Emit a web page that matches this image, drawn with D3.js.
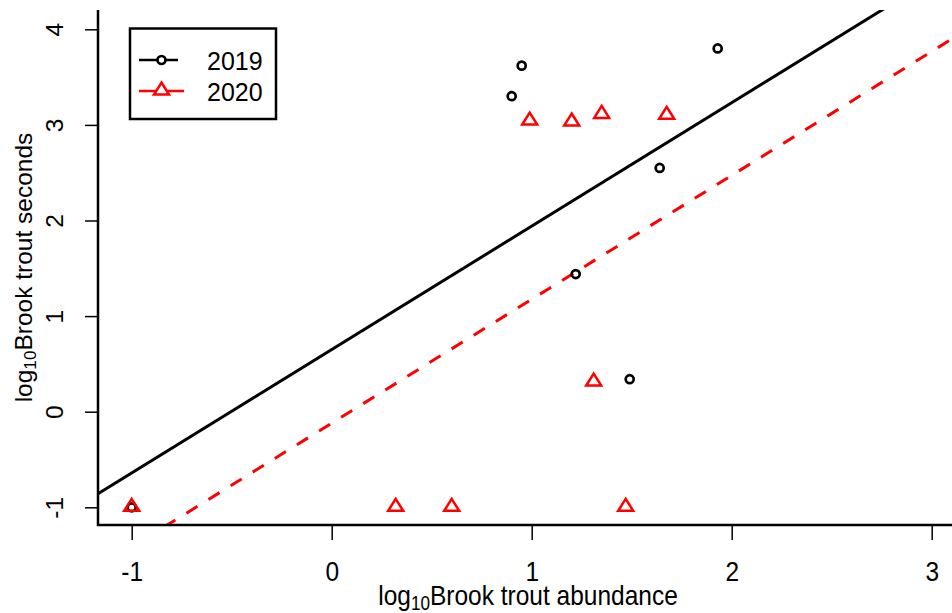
<!DOCTYPE html>
<html>
<head>
<meta charset="utf-8">
<script src="https://cdn.jsdelivr.net/npm/d3@7"></script>
<style>
  html, body { margin: 0; padding: 0; background: #ffffff; }
  svg { display: block; }
  text { font-family: "Liberation Sans", Arial, sans-serif; fill: #000; }
</style>
</head>
<body>
<svg id="chart" width="952" height="613"></svg>
<script>
// ---- data ----
const years = ["2019", "2020"];
const x2019 = [-1, 0.90, 0.95, 1.93, 1.64, 1.22, 1.49];
const y2019 = [-1, 3.30, 3.62, 3.80, 2.55, 1.44, 0.34];
const x2020 = [-1, 0.99, 1.20, 1.35, 1.675, 1.31, 0.32, 0.60, 1.47];
const y2020 = [-1, 3.04, 3.03, 3.11, 3.10, 0.31, -1, -1, -1];
const intercepts = [0.650, -0.120];
const slopes = [1.291, 1.296];
const xTicks = [-1, 0, 1, 2, 3];
const yTicks = [-1, 0, 1, 2, 3, 4];
const xTitle = ["log", "10", "Brook trout abundance"];
const yTitle = ["log", "10", "Brook trout seconds"];

// ---- layout ----
const svg = d3.select("#chart");
const plotL = 98, plotR = 958, plotT = 10, plotB = 525;
const sy = 1.14; // vertical stretch of horizontal axis text
const x = d3.scaleLinear().domain([-1, 3]).range([131.7, 931.7]);
const y = d3.scaleLinear().domain([-1, 4]).range([507.3, 29.3]);
const colors = ["#000000", "#ff0000"];

svg.append("rect").attr("width", 952).attr("height", 613).attr("fill", "#fff");

svg.append("defs").append("clipPath").attr("id", "clip")
  .append("rect").attr("x", plotL).attr("y", plotT)
  .attr("width", plotR - plotL).attr("height", plotB - plotT);

// regression lines
const xl0 = x.invert(plotL), xl1 = x.invert(plotR);
const lineG = svg.append("g").attr("clip-path", "url(#clip)");
intercepts.forEach((a, i) => {
  const b = slopes[i];
  lineG.append("line")
    .attr("x1", x(xl0)).attr("y1", y(a + b * xl0))
    .attr("x2", x(xl1)).attr("y2", y(a + b * xl1))
    .attr("stroke", colors[i]).attr("stroke-width", 3)
    .attr("stroke-dasharray", i === 1 ? "13,13" : null);
});

// points
const ptsG = svg.append("g");
x2019.forEach((v, i) => {
  ptsG.append("circle").attr("cx", x(v)).attr("cy", y(y2019[i])).attr("r", 4)
    .attr("fill", "none").attr("stroke", colors[0]).attr("stroke-width", 2.7);
});
const tri = "M0,-8.5L7.5,3.5L-7.5,3.5Z";
x2020.forEach((v, i) => {
  ptsG.append("path").attr("d", tri)
    .attr("transform", `translate(${x(v)},${y(y2020[i])})`)
    .attr("fill", "none").attr("stroke", colors[1]).attr("stroke-width", 2.5)
    .attr("stroke-linejoin", "miter");
});

// axes (ticks)
const fs = 24.5;
const xAxis = svg.append("g").attr("transform", `translate(0,${plotB})`)
  .call(d3.axisBottom(x).tickValues(xTicks).tickSize(15).tickFormat(d3.format("d")));
xAxis.select(".domain").remove();
xAxis.selectAll(".tick line").attr("stroke", "#000").attr("stroke-width", 1.5);
xAxis.selectAll(".tick text")
  .attr("y", null).attr("dy", null)
  .attr("transform", `translate(0,56) scale(1,${sy})`)
  .attr("font-size", fs).attr("font-family", "Liberation Sans, Arial, sans-serif")
  .attr("text-anchor", "middle").attr("fill", "#000")
  .text(d => d < 0 ? "-" + Math.abs(d) : d);

const yAxis = svg.append("g").attr("transform", `translate(${plotL},0)`)
  .call(d3.axisLeft(y).tickValues(yTicks).tickSize(13).tickFormat(d3.format("d")));
yAxis.select(".domain").remove();
yAxis.selectAll(".tick line").attr("stroke", "#000").attr("stroke-width", 1.5);
yAxis.selectAll(".tick text")
  .attr("x", null).attr("dy", null)
  .attr("transform", `translate(-35,0) rotate(-90)`)
  .attr("font-size", fs).attr("font-family", "Liberation Sans, Arial, sans-serif")
  .attr("text-anchor", "middle").attr("fill", "#000")
  .text(d => d < 0 ? "-" + Math.abs(d) : d);

// L-shaped box
svg.append("path")
  .attr("d", `M${plotL},${plotT}L${plotL},${plotB}L${952},${plotB}`)
  .attr("fill", "none").attr("stroke", "#000").attr("stroke-width", 2.5);

// axis titles
function title(parts, tf) {
  const t = svg.append("text").attr("transform", tf)
    .attr("text-anchor", "middle").attr("font-size", fs);
  t.append("tspan").text(parts[0]);
  t.append("tspan").attr("font-size", fs * 0.7).attr("dy", 4).text(parts[1]);
  t.append("tspan").attr("dy", -4).text(parts[2]);
}
title(xTitle, `translate(${(plotL + plotR) / 2},605) scale(1,${sy})`);
title(yTitle, `translate(32,${(plotT + plotB) / 2}) rotate(-90)`);

// legend
const lg = svg.append("g");
lg.append("rect").attr("x", 130).attr("y", 28.5).attr("width", 146).attr("height", 90.5)
  .attr("fill", "#fff").attr("stroke", "#000").attr("stroke-width", 2.5);
const legY = [60, 91];
years.forEach((yr, i) => {
  lg.append("line").attr("x1", 139).attr("x2", i === 0 ? 178 : 184)
    .attr("y1", legY[i]).attr("y2", legY[i])
    .attr("stroke", colors[i]).attr("stroke-width", 2.5);
  if (i === 0) {
    lg.append("circle").attr("cx", 161.5).attr("cy", legY[i]).attr("r", 4)
      .attr("fill", "#fff").attr("stroke", colors[i]).attr("stroke-width", 2.7);
  } else {
    lg.append("path").attr("d", tri)
      .attr("transform", `translate(161.5,${legY[i]})`)
      .attr("fill", "#fff").attr("stroke", colors[i]).attr("stroke-width", 2.5);
  }
  lg.append("text").attr("x", 207).attr("y", legY[i] + 9.5)
    .attr("font-size", 25).text(yr);
});
</script>
</body>
</html>
